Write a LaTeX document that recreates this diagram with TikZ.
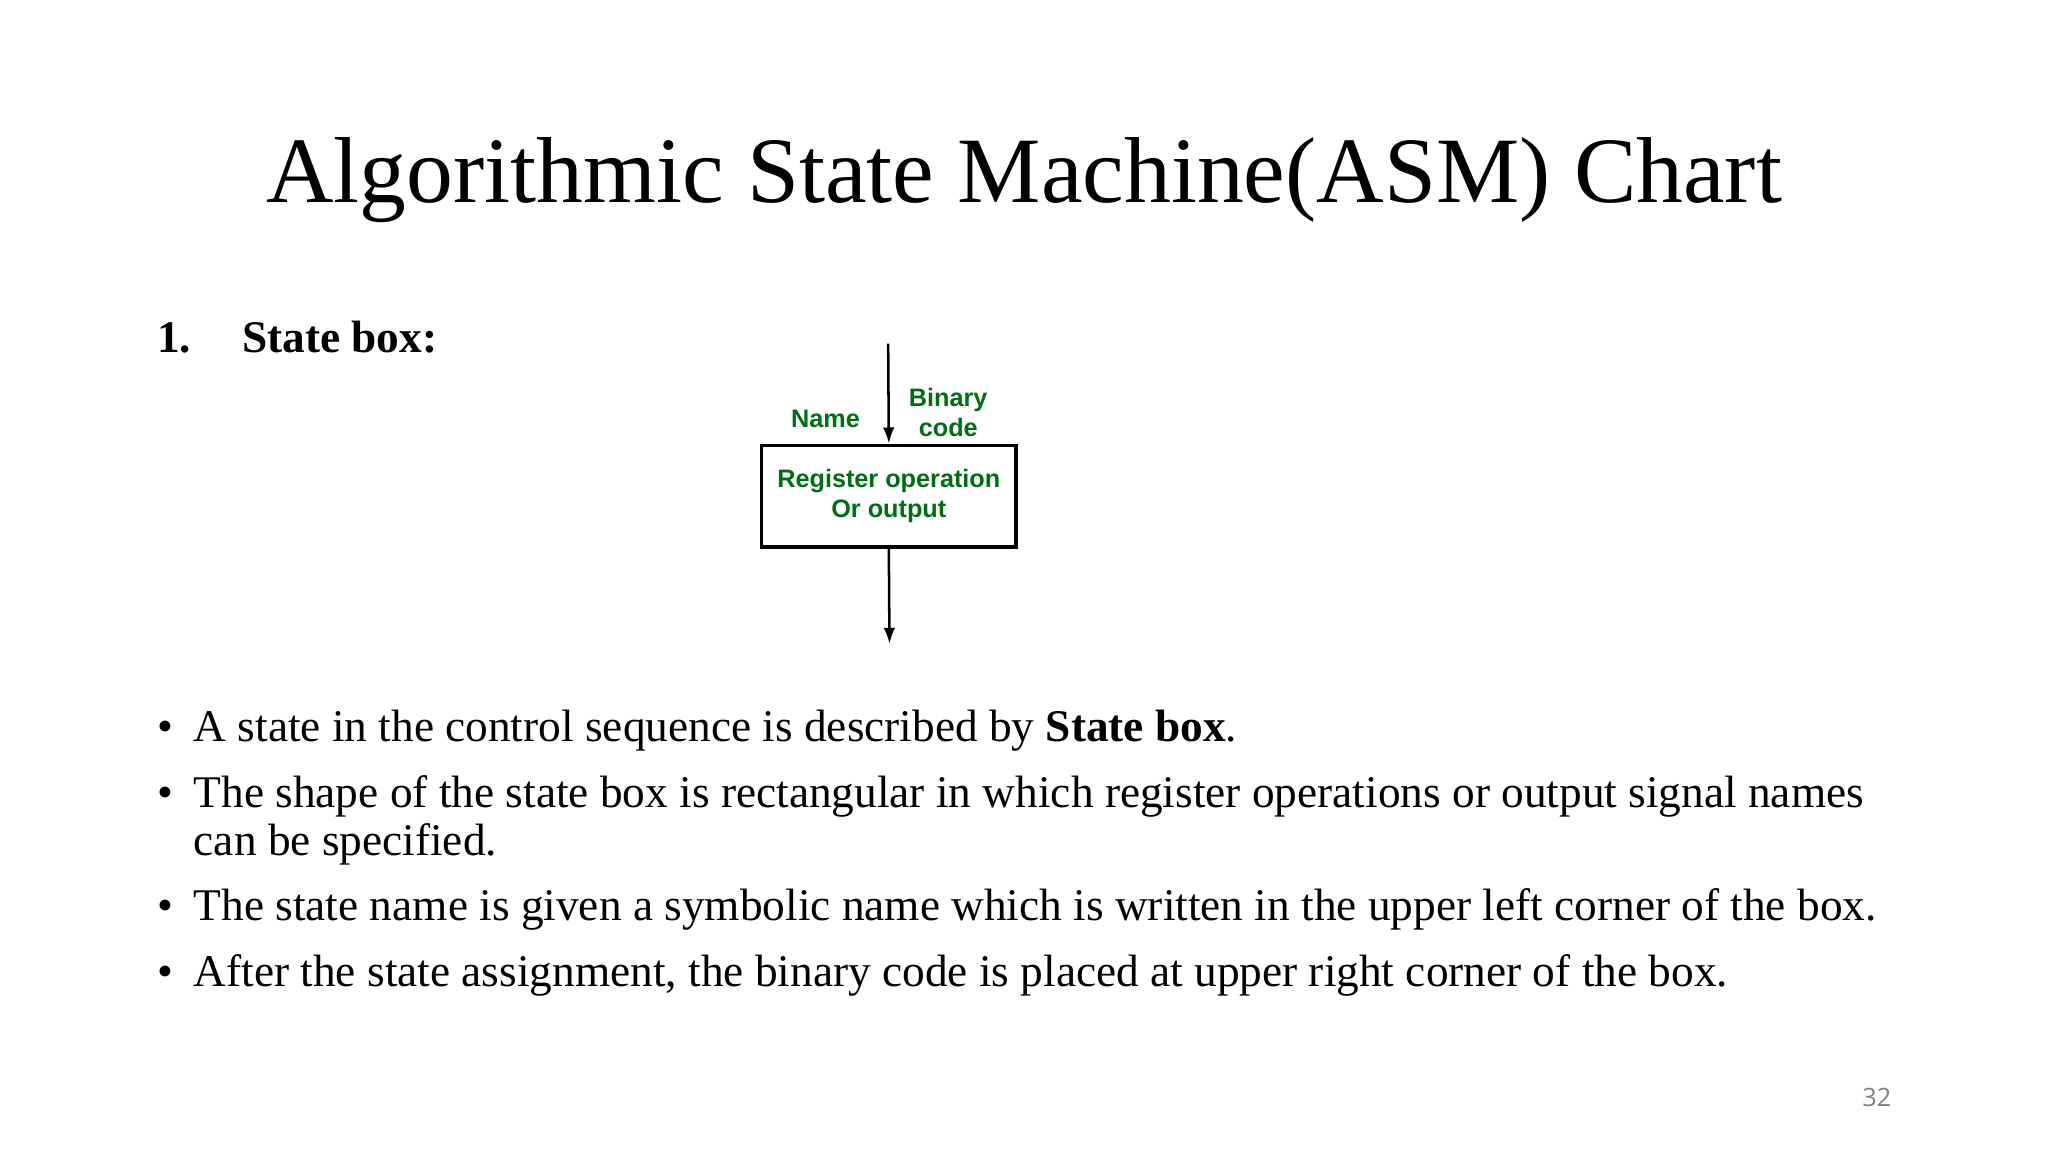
\documentclass[tikz,border=0pt]{standalone}
\usepackage{fontspec}
\setmainfont{Liberation Serif}
\newfontfamily\dsans{Liberation Sans}
\newfontfamily\pnum{Open Sans}
\usetikzlibrary{arrows.meta}
\definecolor{dgreen}{RGB}{0,110,20}
\begin{document}
\begin{tikzpicture}[x=0.02cm,y=-0.02cm,
  body/.style={anchor=base west,inner sep=0,font=\fontsize{19.75}{22}\selectfont},
  lab/.style={text=dgreen,font=\dsans\bfseries\fontsize{11}{13}\selectfont,align=center,inner sep=0},
  arr/.style={-{Latex[length=7pt,width=5pt]},line width=1.1pt}]
\useasboundingbox (0,0) rectangle (1568,882);
\node[anchor=base,inner sep=0,font=\fontsize{40.8}{46}\selectfont] (title) at (784,155) {Algorithmic State Machine(ASM) Chart};
\node[body,font=\bfseries\fontsize{19.75}{22}\selectfont] (num) at (120,270) {1.};
\node[body,font=\bfseries\fontsize{19.75}{22}\selectfont] (sb) at (185,270) {State box:};
% diagram
\node[draw,line width=1.6pt,minimum width=3.9cm,minimum height=1.56cm,inner sep=0,lab,text=dgreen] (box) at (680.5,380) {Register operation\\Or output};
\coordinate (top) at (680,263);
\coordinate (bot) at (681,493);
\node[lab] (name) at (632,321) {Name};
\node[lab] (code) at (726,316) {Binary\\code};
\draw[arr] (top) -- (box.north);
\draw[arr] (box.south) -- (bot);
% bullets
\foreach \y/\n in {568/b1,618/b2,705/b3,755/b4}{\node[body] (\n) at (120,\y) {\textbullet};}
\node[body] (t1) at (148,568) {A state in the control sequence is described by \textbf{State box}.};
\node[body] (t2) at (148,618) {The shape of the state box is rectangular in which register operations or output signal names};
\node[body] (t2b) at (148,655) {can be specified.};
\node[body] (t3) at (148,705) {The state name is given a symbolic name which is written in the upper left corner of the box.};
\node[body] (t4) at (148,755) {After the state assignment, the binary code is placed at upper right corner of the box.};
\node[inner sep=0,text=gray,font=\pnum\fontsize{11}{13}\selectfont] (pg) at (1437,840) {32};
\end{tikzpicture}
\end{document}
